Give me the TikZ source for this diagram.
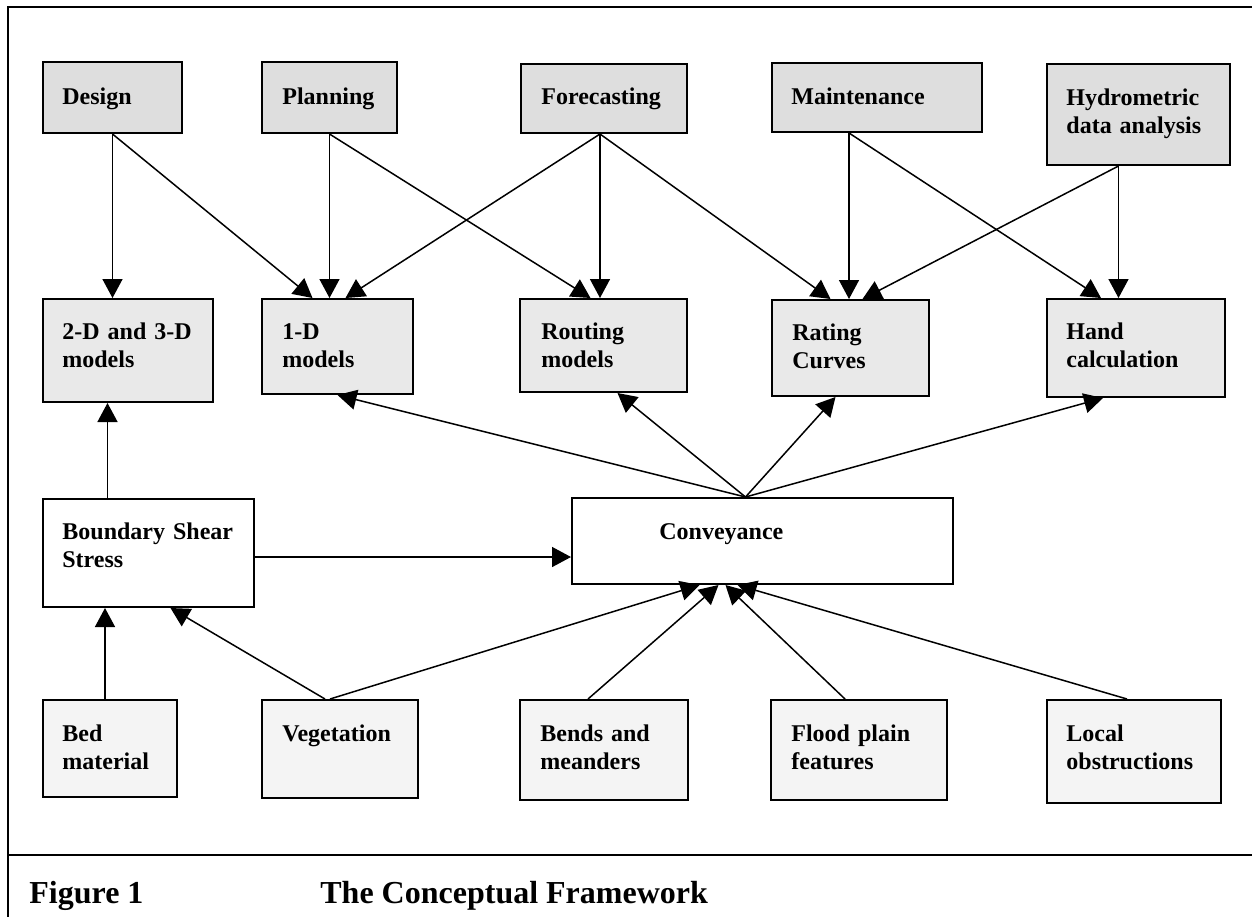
\documentclass[tikz,border=0pt]{standalone}
\usepackage{fontspec}
\setmainfont{Liberation Serif}
\usetikzlibrary{arrows.meta,
                calc,
                fit,
                positioning}

\tikzset{box/.style = {draw, line width = 1pt, inner sep = 0pt},
         topbox/.style = {box, fill = gray!26},
         midbox/.style = {box, fill = gray!17},
         botbox/.style = {box, fill = gray!9},
         lbl/.style = {anchor = base west, inner sep = 0pt, text width = 200pt,
                       align = left, font = \fontsize{12}{14}\selectfont\bfseries},
         caption/.style = {anchor = base west, inner sep = 0pt,
                           font = \fontsize{16}{18}\selectfont\bfseries},
         arr/.style = {-{Triangle[length=9.5pt, width=10pt]}, line width = 0.75pt}}

\begin{document}
\begin{tikzpicture}%
        [x = 0.5pt, y = -0.5pt]
        \useasboundingbox (0,0) rectangle (1252,917);
        % frame and caption
        \draw[line width = 0.8pt] (1252,7) -- (8,7) -- (8,917);
        \draw[line width = 0.8pt] (8,855) -- (1252,855);
        \node[caption] (fig) at (29,903) {Figure 1};
        \node[caption] (title) at (320,903) {The Conceptual Framework};

        % top row
        \node[topbox, fit = {(43,62) (182,133)}] (design) {};
        \node[topbox, fit = {(262,62) (397,133)}] (planning) {};
        \node[topbox, fit = {(521,64) (687,133)}] (forecast) {};
        \node[topbox, fit = {(772,63) (982,132)}] (maint) {};
        \node[topbox, fit = {(1047,64) (1230,165)}] (hydro) {};
        \node[lbl] (design-t) at ($(design.north west)+(20,43)$) {Design};
        \node[lbl] (planning-t) at ($(planning.north west)+(21,43)$) {Planning};
        \node[lbl] (forecast-t) at ($(forecast.north west)+(21,41)$) {Forecasting};
        \node[lbl] (maint-t) at ($(maint.north west)+(20,42)$) {Maintenance};
        \node[lbl] (hydro-t) at ($(hydro.north west)+(20,42)$) {Hydrometric\\data analysis};

        % model row
        \node[midbox, fit = {(43,299) (213,402)}] (twod) {};
        \node[midbox, fit = {(262,299) (413,394)}] (oned) {};
        \node[midbox, fit = {(520,299) (687,392)}] (routing) {};
        \node[midbox, fit = {(772,300) (929,396)}] (rating) {};
        \node[midbox, fit = {(1047,299) (1225,397)}] (hand) {};
        \node[lbl] (twod-t) at ($(twod.north west)+(20,41)$) {2-D and 3-D\\models};
        \node[lbl] (oned-t) at ($(oned.north west)+(21,41)$) {1-D\\models};
        \node[lbl] (routing-t) at ($(routing.north west)+(22,41)$) {Routing\\models};
        \node[lbl] (rating-t) at ($(rating.north west)+(21,41)$) {Rating\\Curves};
        \node[lbl] (hand-t) at ($(hand.north west)+(20,41)$) {Hand\\calculation};

        % middle
        \node[box, fill = white, fit = {(43,499) (254,607)}] (boundary) {};
        \node[box, fill = white, fit = {(572,498) (953,584)}] (conv) {};
        \node[lbl] (boundary-t) at ($(boundary.north west)+(20,41)$) {Boundary Shear\\Stress};
        \node[lbl] (conv-t) at ($(conv.north west)+(88,42)$) {Conveyance};

        % factors
        \node[botbox, fit = {(43,700) (177,797)}] (bed) {};
        \node[botbox, fit = {(262,700) (418,798)}] (veg) {};
        \node[botbox, fit = {(520,700) (688,800)}] (bends) {};
        \node[botbox, fit = {(771,700) (947,800)}] (flood) {};
        \node[botbox, fit = {(1047,700) (1221,803)}] (local) {};
        \node[lbl] (bed-t) at ($(bed.north west)+(20,42)$) {Bed\\material};
        \node[lbl] (veg-t) at ($(veg.north west)+(21,42)$) {Vegetation};
        \node[lbl] (bends-t) at ($(bends.north west)+(21,42)$) {Bends and\\meanders};
        \node[lbl] (flood-t) at ($(flood.north west)+(21,42)$) {Flood plain\\features};
        \node[lbl] (local-t) at ($(local.north west)+(20,42)$) {Local\\obstructions};

        % uses -> models
        \coordinate (fc) at ($(forecast.south)+(-4,0)$);
        \coordinate (mc) at ($(maint.south)+(-28,0)$);
        \coordinate (hc) at ($(hydro.south)+(-20,0)$);
        \draw[arr] (design.south) -- (design.south |- twod.north);
        \draw[arr] (design.south) -- ($(oned.north)+(-25,0)$);
        \draw[arr] (planning.south) -- (planning.south |- oned.north);
        \draw[arr] (planning.south) -- ($(routing.north)+(-13,0)$);
        \draw[arr] (fc) -- ($(oned.north)+(8,0)$);
        \draw[arr] (fc) -- (fc |- routing.north);
        \draw[arr] (fc) -- ($(rating.north)+(-20,0)$);
        \draw[arr] (mc) -- (mc |- rating.north);
        \draw[arr] (mc) -- ($(hand.north)+(-35,0)$);
        \draw[arr] (hc) -- ($(rating.north)+(12,0)$);
        \draw[arr] (hc) -- (hc |- hand.north);

        % conveyance -> models
        \coordinate (cc) at ($(conv.north)+(-17,0)$);
        \draw[arr] (cc) -- (oned.south);
        \draw[arr] (cc) -- ($(routing.south)+(14,0)$);
        \draw[arr] (cc) -- ($(rating.south)+(-15,0)$);
        \draw[arr] (cc) -- ($(hand.south)+(-33,0)$);

        % boundary shear stress
        \coordinate (bc) at ($(boundary.north)+(-41,0)$);
        \coordinate (be) at ($(boundary.east)+(0,4)$);
        \coordinate (bdc) at ($(bed.north)+(-5,0)$);
        \draw[arr] (bc) -- (bc |- twod.south);
        \draw[arr] (be) -- (be -| conv.west);
        \draw[arr] (bdc) -- (bdc |- boundary.south);
        \draw[arr] ($(veg.north)+(-15,0)$) -- ($(boundary.south)+(22,0)$);

        % factors -> conveyance
        \draw[arr] ($(veg.north)+(-10,0)$) -- ($(conv.south)+(-63,0)$);
        \draw[arr] ($(bends.north)+(-16,0)$) -- ($(conv.south)+(-44,0)$);
        \draw[arr] ($(flood.north)+(-14,0)$) -- ($(conv.south)+(-37,0)$);
        \draw[arr] ($(local.north)+(-7,0)$) -- ($(conv.south)+(-25,0)$);
    \end{tikzpicture}
\end{document}
